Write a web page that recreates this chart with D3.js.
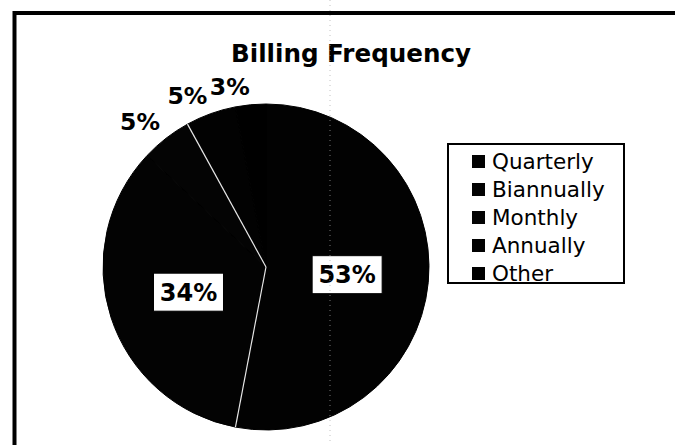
<!DOCTYPE html>
<html>
<head>
<meta charset="utf-8">
<script src="https://cdn.jsdelivr.net/npm/d3@7"></script>
<style>
  body { margin: 0; background: #fff; }
  svg { display: block; }
</style>
</head>
<body>
<div id="chart"></div>
<script>
const WIDTH = 675;
const HEIGHT = 445;

// data
const categories = ["Quarterly", "Biannually", "Monthly", "Annually", "Other"];
const values = [53, 34, 5, 5, 3];
const fills = ["#020202", "#030303", "#040404", "#020202", "#000000"];
const title = "Billing Frequency";

function setup(){
    let svg = d3.select("#chart")
        .append("svg")
        .attr("width",WIDTH)
        .attr("height",HEIGHT);

    // outer frame of the scanned chart (runs off the right and bottom)
    svg.append("rect")
        .attr("x",14.5)
        .attr("y",13)
        .attr("width",WIDTH)
        .attr("height",HEIGHT)
        .style("fill","none")
        .style("stroke","#000")
        .style("stroke-width",4);

    svg.append("text")
        .attr("x",351)
        .attr("y",62)
        .attr("text-anchor","middle")
        .style("font-family","'DejaVu Sans', Verdana, sans-serif")
        .style("font-weight","bold")
        .style("font-size","24.6px")
        .text(title);

    let cx = 266, cy = 267, r = 163;
    let data = categories.map((c,i) => ({name:c, value:values[i], fill:fills[i]}));

    let pie = d3.pie().sort(null).value(d => d.value);
    let arcs = pie(data);
    let arc = d3.arc().innerRadius(0).outerRadius(r);
    let labelArc = d3.arc().innerRadius(r+10).outerRadius(r+10);

    let g = svg.append("g").attr("transform",`translate(${cx},${cy})`);
    g.selectAll(".slice")
        .data(arcs)
        .enter()
        .append("path")
        .attr("class","slice")
        .attr("d",arc)
        .style("fill",d => d.data.fill)
        .style("stroke","#000")
        .style("stroke-width",1);

    // pale divider lines that survive in the scan
    let edges = [arcs[0].endAngle, arcs[2].endAngle];
    g.selectAll(".edge")
        .data(edges)
        .enter()
        .append("line")
        .attr("class","edge")
        .attr("x1",0).attr("y1",0)
        .attr("x2",a => Math.sin(a)*r)
        .attr("y2",a => -Math.cos(a)*r)
        .style("stroke","#e8e8e8")
        .style("stroke-width",1.2);

    // big slices: labels in white boxes inside
    let inside = arcs.filter(d => d.data.value >= 10);
    let inLabels = g.selectAll(".inlabel")
        .data(inside)
        .enter()
        .append("g")
        .attr("class","inlabel")
        .attr("transform",d => `translate(${arc.centroid(d)})`);
    inLabels.append("rect")
        .attr("x",-35).attr("y",-19)
        .attr("width",70).attr("height",38)
        .style("fill","#fff")
        .style("stroke","#000")
        .style("stroke-width",1);
    inLabels.append("text")
        .attr("text-anchor","middle")
        .attr("y",8.5)
        .style("font-family","'DejaVu Sans', Verdana, sans-serif")
        .style("font-weight","bold")
        .style("font-size","24px")
        .text(d => d.data.value + "%");

    // small slices: labels outside, bottom-right corner on the ring
    let outside = arcs.filter(d => d.data.value < 10);
    g.selectAll(".outlabel")
        .data(outside)
        .enter()
        .append("text")
        .attr("class","outlabel")
        .attr("transform",d => `translate(${labelArc.centroid(d)})`)
        .attr("text-anchor","end")
        .style("font-family","'DejaVu Sans', Verdana, sans-serif")
        .style("font-weight","bold")
        .style("font-size","23.5px")
        .text(d => d.data.value + "%");

    // legend
    let legend = svg.append("g").attr("transform","translate(448,144)");
    legend.append("rect")
        .attr("width",176)
        .attr("height",139)
        .style("fill","#fff")
        .style("stroke","#000")
        .style("stroke-width",2);
    let y = d3.scalePoint()
        .domain(categories)
        .range([18,130]);
    let items = legend.selectAll(".item")
        .data(data)
        .enter()
        .append("g")
        .attr("class","item")
        .attr("transform",d => `translate(0,${y(d.name)})`);
    items.append("rect")
        .attr("x",24).attr("y",-7)
        .attr("width",13).attr("height",13)
        .style("fill",d => d.fill);
    items.append("text")
        .attr("x",44)
        .attr("y",7)
        .style("font-family","'DejaVu Sans', Verdana, sans-serif")
        .style("font-size","21.5px")
        .text(d => d.name);

    // fold line of the scanned page
    svg.append("line")
        .attr("x1",330).attr("x2",330)
        .attr("y1",0).attr("y2",HEIGHT)
        .style("stroke","#aaa")
        .style("stroke-width",1)
        .style("stroke-dasharray","1,4")
        .style("opacity",0.7);
}

window.addEventListener("load",setup);
</script>
</body>
</html>
